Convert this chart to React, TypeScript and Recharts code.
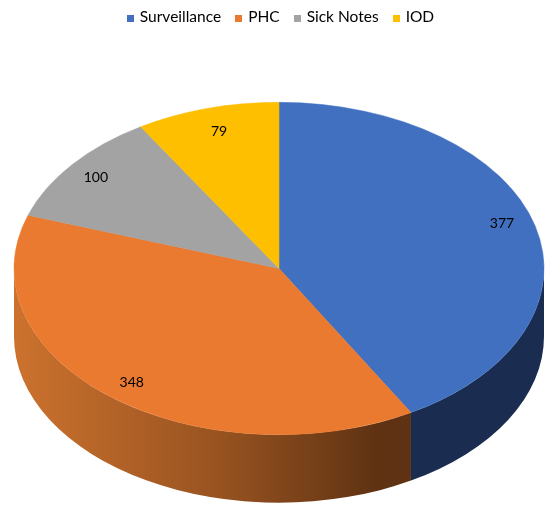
import React from 'react';
import { PieChart, Pie, Cell, Legend } from 'recharts';

const categories = ['Surveillance', 'PHC', 'Sick Notes', 'IOD'];
const values = [377, 348, 100, 79];
const colors = ['#4170c1', '#e97a2f', '#a3a3a3', '#fdbf00'];
const wallColors = ['#1a2d50', 'url(#phcWall)', '#6b6b6b', '#a07a00'];

const data = categories.map((name, i) => ({ name, value: values[i] }));

// the tilted look: the pie is squashed vertically and a wall is hung below it
const SQUASH = 0.627;
const DEPTH = 68;
const RAD = Math.PI / 180;

function pt(cx: number, cy: number, r: number, deg: number, dy = 0) {
  return [cx + r * Math.cos(deg * RAD), cy - r * SQUASH * Math.sin(deg * RAD) + dy];
}

function TopFace(props: any) {
  const { cx, cy, outerRadius: r, startAngle, endAngle, fill } = props;
  const [x0, y0] = pt(cx, cy, r, startAngle);
  const [x1, y1] = pt(cx, cy, r, endAngle);
  const large = Math.abs(startAngle - endAngle) > 180 ? 1 : 0;
  const d = `M${cx},${cy}L${x0},${y0}A${r},${r * SQUASH} 0 ${large} 1 ${x1},${y1}Z`;
  return <path d={d} fill={fill} stroke={fill} strokeWidth={0.5} />;
}

function Wall(props: any) {
  const { cx, cy, outerRadius: r, startAngle, endAngle, fill } = props;
  // only the front half of the rim is visible (0 to -180 degrees)
  const a = Math.min(startAngle, 0);
  const b = Math.max(endAngle, -180);
  if (a <= b) return <g />;
  const [x0, y0] = pt(cx, cy, r, a);
  const [x1, y1] = pt(cx, cy, r, b);
  const ry = r * SQUASH;
  const d = `M${x0},${y0}A${r},${ry} 0 0 1 ${x1},${y1}L${x1},${y1 + DEPTH}A${r},${ry} 0 0 0 ${x0},${y0 + DEPTH}Z`;
  return <path d={d} fill={fill} />;
}

const labelNudge = [[-1, -9], [0, 1], [-2, -1], [3, 2]];

function renderLabel(props: any) {
  const { cx, cy, outerRadius, midAngle, value, index } = props;
  const [x, y] = pt(cx, cy, outerRadius * 0.875, midAngle);
  const [nx, ny] = labelNudge[index];
  return (
    <text x={x + nx} y={y + ny} textAnchor="middle" dominantBaseline="central"
      fontSize={14} fontFamily="Lato" fill="#000">
      {value}
    </text>
  );
}

export default function App() {
  return (
    <div style={{ position: 'absolute', left: 0, top: 0, filter: 'blur(0.7px)' }}>
      <PieChart width={549} height={505} margin={{ top: 0, right: 0, bottom: 0, left: 0 }}>
        <defs>
          <linearGradient id="phcWall" x1="0" y1="0" x2="1" y2="0">
            <stop offset="0" stopColor="#cc722e" />
            <stop offset="0.5" stopColor="#9a5421" />
            <stop offset="0.92" stopColor="#5e3212" />
            <stop offset="1" stopColor="#5e3212" />
          </linearGradient>
        </defs>
        <Legend
          verticalAlign="top"
          align="center"
          iconType="square"
          iconSize={7}
          itemSorter={(item: any) => categories.indexOf(item.value)}
          wrapperStyle={{ top: 7, left: 13, fontFamily: 'Lato', fontSize: 15.5 }}
          formatter={(v: string) => <span style={{ color: '#000', marginLeft: 2, marginRight: 4 }}>{v}</span>}
        />
        <Pie
          data={data}
          dataKey="value"
          nameKey="name"
          cx={279}
          cy={250.5}
          outerRadius={265}
          startAngle={90}
          endAngle={-270}
          legendType="none"
          isAnimationActive={false}
          shape={Wall}
        >
          {data.map((d, i) => <Cell key={d.name} fill={wallColors[i]} />)}
        </Pie>
        <Pie
          data={data}
          dataKey="value"
          nameKey="name"
          cx={279}
          cy={250.5}
          outerRadius={265}
          startAngle={90}
          endAngle={-270}
          isAnimationActive={false}
          shape={TopFace}
          label={renderLabel}
          labelLine={false}
        >
          {data.map((d, i) => <Cell key={d.name} fill={colors[i]} />)}
        </Pie>
      </PieChart>
    </div>
  );
}
